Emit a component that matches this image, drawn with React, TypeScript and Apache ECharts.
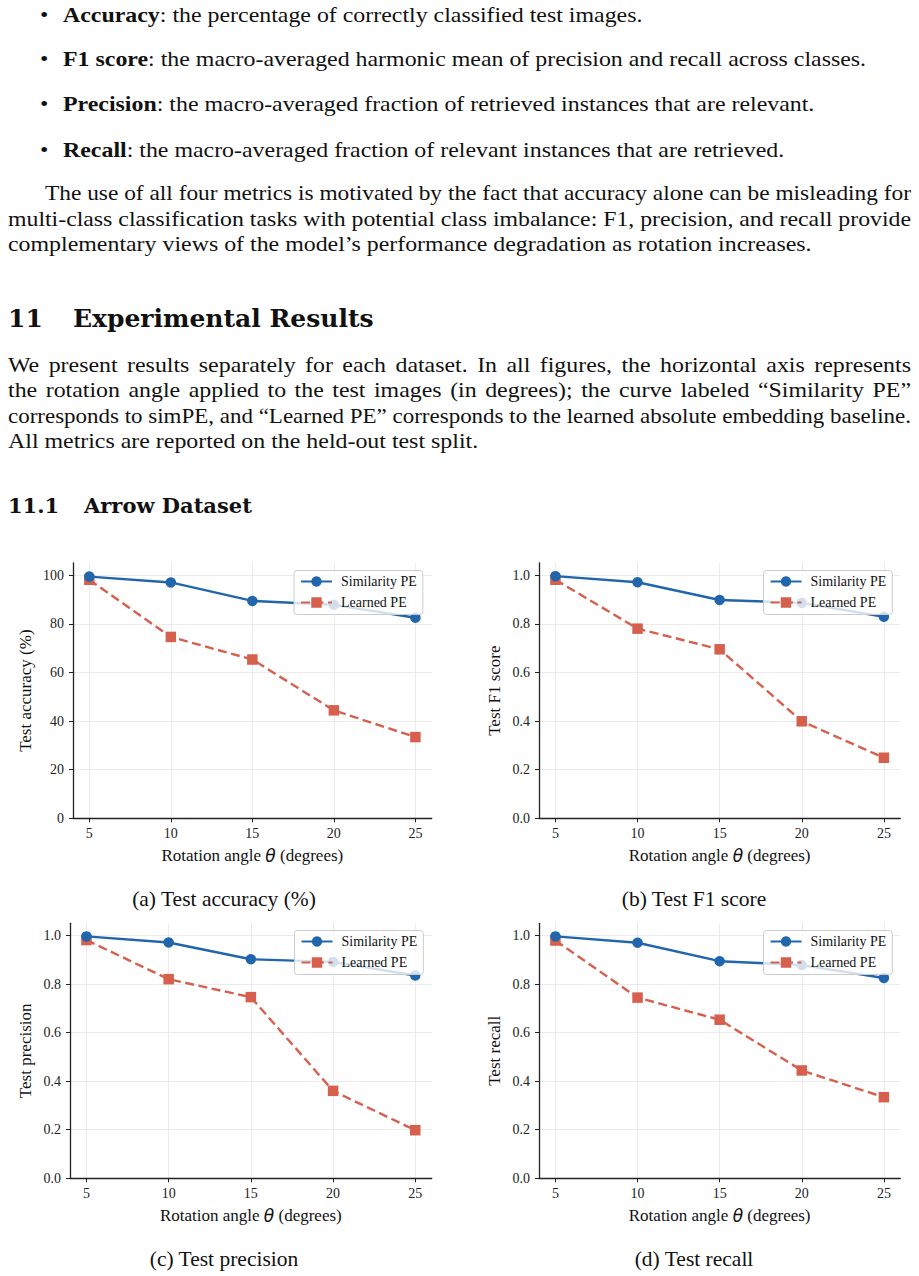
import React, { useEffect, useLayoutEffect, useRef } from "react";
import * as echarts from "echarts";

// ---------- data ----------
const angles = [5, 10, 15, 20, 25];
const angleTicks = [5, 10, 15, 20, 25];
const accTicks = [0, 20, 40, 60, 80, 100];
const scoreTicks = [0, 0.2, 0.4, 0.6, 0.8, 1.0];
const seriesNames = ["Similarity PE", "Learned PE"];

const accSim = [99.4, 97.0, 89.4, 87.8, 82.5];
const accLearned = [98.1, 74.6, 65.3, 44.4, 33.4];
const f1Sim = [0.996, 0.971, 0.898, 0.886, 0.829];
const f1Learned = [0.981, 0.78, 0.695, 0.399, 0.249];
const precSim = [0.996, 0.971, 0.902, 0.891, 0.835];
const precLearned = [0.981, 0.82, 0.746, 0.36, 0.198];
const recSim = [0.996, 0.97, 0.894, 0.878, 0.825];
const recLearned = [0.979, 0.744, 0.653, 0.444, 0.334];

const yNames = ["Test accuracy (%)", "Test F1 score", "Test precision", "Test recall"];
const captions = ["(a) Test accuracy (%)", "(b) Test F1 score", "(c) Test precision", "(d) Test recall"];

const SERIF = '"Liberation Serif", "Times New Roman", serif';
const HEAD = '"DejaVu Serif", "Liberation Serif", serif';
const BLUE = "#2166ac";
const RED = "#d6604d";
const AXIS = "#222222";
const GRIDC = "#e6e6e6";

// ---------- layout (chart-local coords, chart div starts at page y=540) ----------
const CHART_TOP = 540;
const panels = [
  { left: 73, top: 23, width: 358.7, height: 255.3, yMax: 105, ticks: accTicks, digits: 0, sim: accSim, learned: accLearned, nameGap: 39, legLeft: 294, legTop: 30.5, capX: 224, capY: 359 },
  { left: 539, top: 23, width: 361.3, height: 255.3, yMax: 1.05, ticks: scoreTicks, digits: 1, sim: f1Sim, learned: f1Learned, nameGap: 36, legLeft: 763.5, legTop: 30.5, capX: 694, capY: 359 },
  { left: 70, top: 383.3, width: 361.7, height: 255, yMax: 1.05, ticks: scoreTicks, digits: 1, sim: precSim, learned: precLearned, nameGap: 36, legLeft: 294.5, legTop: 390.5, capX: 224, capY: 719 },
  { left: 539, top: 383.3, width: 361.3, height: 255, yMax: 1.05, ticks: scoreTicks, digits: 1, sim: recSim, learned: recLearned, nameGap: 36, legLeft: 763.5, legTop: 390.5, capX: 694, capY: 719 },
];

function buildOption() {
  const grid = panels.map((p) => ({ left: p.left, top: p.top, width: p.width, height: p.height, containLabel: false }));
  const xAxis = panels.map((p, i) => ({
    type: "value",
    gridIndex: i,
    min: 4,
    max: 26,
    name: "Rotation angle {i|θ} (degrees)",
    nameLocation: "middle",
    nameGap: 29,
    nameTextStyle: {
      fontFamily: SERIF,
      fontSize: 17,
      color: "#111",
      rich: { i: { fontFamily: '"DejaVu Sans", sans-serif', fontStyle: "italic", fontSize: 17, color: "#111" } },
    },
    axisLine: { onZero: false, lineStyle: { color: AXIS, width: 1.3 } },
    axisTick: { show: true, customValues: angleTicks, length: 4, lineStyle: { color: AXIS, width: 1 } },
    axisLabel: { customValues: angleTicks, margin: 8, fontFamily: SERIF, fontSize: 14, color: "#222" },
    splitLine: { show: true, lineStyle: { color: GRIDC, width: 0.8 } },
  }));
  const yAxis = panels.map((p, i) => ({
    type: "value",
    gridIndex: i,
    min: 0,
    max: p.yMax,
    name: yNames[i],
    nameLocation: "middle",
    nameGap: p.nameGap,
    nameTextStyle: { fontFamily: SERIF, fontSize: 17, color: "#111" },
    axisLine: { show: true, onZero: false, lineStyle: { color: AXIS, width: 1.3 } },
    axisTick: { show: true, customValues: p.ticks, length: 4, lineStyle: { color: AXIS, width: 1 } },
    axisLabel: {
      customValues: p.ticks,
      margin: 9,
      fontFamily: SERIF,
      fontSize: 14,
      color: "#222",
      formatter: (v: number) => v.toFixed(p.digits),
    },
    splitLine: { show: true, lineStyle: { color: GRIDC, width: 0.8 } },
  }));
  const series: any[] = [];
  panels.forEach((p, i) => {
    series.push({
      type: "line",
      name: seriesNames[0],
      xAxisIndex: i,
      yAxisIndex: i,
      data: angles.map((a, j) => [a, p.sim[j]]),
      symbol: "circle",
      symbolSize: 10.5,
      itemStyle: { color: BLUE },
      lineStyle: { color: BLUE, width: 2.4 },
      z: 3,
    });
    series.push({
      type: "line",
      name: seriesNames[1],
      xAxisIndex: i,
      yAxisIndex: i,
      data: angles.map((a, j) => [a, p.learned[j]]),
      symbol: "rect",
      symbolSize: 10.5,
      itemStyle: { color: RED },
      lineStyle: { color: RED, width: 2.4, type: [9, 4.5] },
      z: 2,
    });
  });
  const legend = panels.map((p) => ({
    data: seriesNames,
    orient: "vertical",
    left: p.legLeft,
    top: p.legTop,
    itemWidth: 31,
    itemHeight: 13,
    itemGap: 7,
    padding: [4, 6, 5, 6],
    backgroundColor: "rgba(255,255,255,0.8)",
    borderColor: "#cccccc",
    borderWidth: 1,
    borderRadius: 3,
    selectedMode: false,
    textStyle: { fontFamily: SERIF, fontSize: 14, lineHeight: 14, color: "#111", padding: [0, 0, 0, 4] },
  }));
  const graphic = panels.map((p, i) => ({
    type: "text",
    x: p.capX,
    y: p.capY,
    style: {
      text: captions[i],
      font: `21.5px ${SERIF}`,
      fill: "#111",
      align: "center",
      verticalAlign: "middle",
    },
  }));
  return { animation: false, backgroundColor: "transparent", grid, xAxis, yAxis, series, legend, graphic };
}

function Charts() {
  const ref = useRef<HTMLDivElement>(null);
  useEffect(() => {
    if (!ref.current) return;
    const chart = echarts.init(ref.current, undefined, { renderer: "svg" });
    chart.setOption(buildOption() as any);
    return () => chart.dispose();
  }, []);
  return <div ref={ref} style={{ position: "absolute", left: 0, top: CHART_TOP, width: 919, height: 736 }} />;
}

// ---------- prose ----------
const BODY_F = 21;
const BODY_SX = 1.137; // widen Times-like glyphs toward Computer Modern proportions
const RIGHT_EDGE = 911;
function topFor(baseline: number, f: number, l: number, asc = 0.3375) {
  return baseline - (l / 2 + asc * f);
}

function Line(props: { baseline: number; left: number; justify?: boolean; children: any; font?: string; size?: number; bold?: boolean }) {
  const ref = useRef<HTMLDivElement>(null);
  const f = props.size ?? BODY_F;
  const l = f + 6;
  const isHead = props.font === HEAD;
  const asc = isHead ? 0.346 : 0.3375;
  const sx = isHead ? 1 : BODY_SX;

  useLayoutEffect(() => {
    if (!props.justify) return;
    const fit = () => {
      const el = ref.current;
      if (!el) return;
      el.style.wordSpacing = "0px";
      el.style.transform = "none";
      const w = el.getBoundingClientRect().width;
      const target = RIGHT_EDGE - props.left;
      const s = Math.min(BODY_SX, target / w);
      const spaces = ((el.textContent || "").match(/ /g) || []).length || 1;
      const extra = Math.max(0, (target / s - w) / spaces);
      el.style.wordSpacing = extra + "px";
      el.style.transform = `scaleX(${s})`;
    };
    fit();
    const fonts: any = (document as any).fonts;
    if (fonts && fonts.ready) fonts.ready.then(fit);
  }, []);

  const style: any = {
    position: "absolute",
    top: topFor(props.baseline, f, l, asc),
    left: props.left,
    fontFamily: props.font ?? SERIF,
    fontSize: f,
    lineHeight: l + "px",
    fontWeight: props.bold ? "bold" : "normal",
    color: "#111",
    transform: `scaleX(${sx})`,
    transformOrigin: "0 0",
    whiteSpace: "nowrap",
  };
  return (
    <div ref={ref} style={style}>
      {props.children}
    </div>
  );
}

function Bullet(props: { baseline: number; term: string; text: string }) {
  return (
    <>
      <Line baseline={props.baseline} left={40}>•</Line>
      <Line baseline={props.baseline} left={63}>
        <b>{props.term}</b>
        {props.text}
      </Line>
    </>
  );
}

export default function App() {
  return (
    <div style={{ position: "absolute", left: 0, top: 0, width: 919, height: 1276, background: "#fff", overflow: "hidden" }}>
      <Bullet baseline={22.5} term="Accuracy" text=": the percentage of correctly classified test images." />
      <Bullet baseline={67} term="F1 score" text=": the macro-averaged harmonic mean of precision and recall across classes." />
      <Bullet baseline={112} term="Precision" text=": the macro-averaged fraction of retrieved instances that are relevant." />
      <Bullet baseline={157.5} term="Recall" text=": the macro-averaged fraction of relevant instances that are retrieved." />

      <Line baseline={200.7} left={45} justify>
        The use of all four metrics is motivated by the fact that accuracy alone can be misleading for
      </Line>
      <Line baseline={226.2} left={8} justify>
        multi-class classification tasks with potential class imbalance: F1, precision, and recall provide
      </Line>
      <Line baseline={251.7} left={8}>
        complementary views of the model’s performance degradation as rotation increases.
      </Line>

      <Line baseline={327} left={8} font={HEAD} size={25} bold>11</Line>
      <Line baseline={327} left={73} font={HEAD} size={25} bold>Experimental Results</Line>

      <Line baseline={372.5} left={8} justify>
        We present results separately for each dataset. In all figures, the horizontal axis represents
      </Line>
      <Line baseline={398} left={8} justify>
        the rotation angle applied to the test images (in degrees); the curve labeled “Similarity PE”
      </Line>
      <Line baseline={423.5} left={8} justify>
        corresponds to simPE, and “Learned PE” corresponds to the learned absolute embedding baseline.
      </Line>
      <Line baseline={449} left={8}>
        All metrics are reported on the held-out test split.
      </Line>

      <Line baseline={513} left={8} font={HEAD} size={21} bold>11.1</Line>
      <Line baseline={513} left={84} font={HEAD} size={21} bold>Arrow Dataset</Line>

      <Charts />
    </div>
  );
}
